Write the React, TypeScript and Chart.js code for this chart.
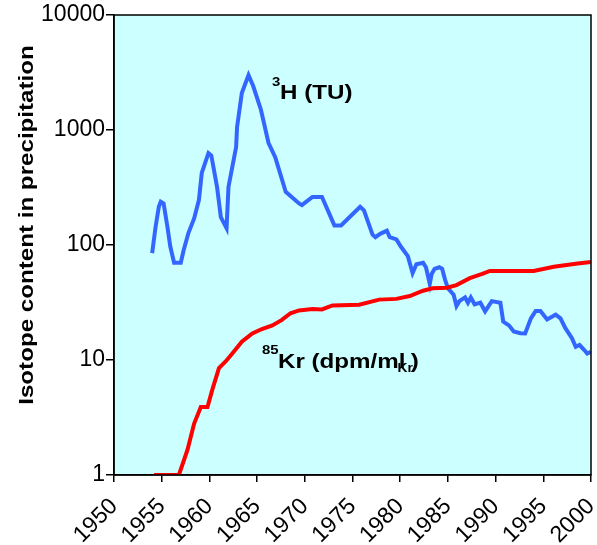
import React, { useEffect, useRef } from "react";
import { Chart, registerables } from "chart.js";
Chart.register(...registerables);

const xTickYears = [1950, 1955, 1960, 1965, 1970, 1975, 1980, 1985, 1990, 1995, 2000];
const yTickValues = [1, 10, 100, 1000, 10000];

const tritiumYears = [
  1954.0, 1954.36, 1954.7, 1954.9, 1955.2, 1955.6, 1955.9, 1956.3, 1957.0, 1957.3,
  1957.8, 1958.4, 1958.9, 1959.2, 1959.9, 1960.2, 1960.8, 1961.2, 1961.8, 1962.0,
  1962.8, 1962.9, 1963.4, 1964.1, 1964.6, 1965.4, 1966.2, 1966.9, 1968.0, 1969.4,
  1969.7, 1970.8, 1971.8, 1973.1, 1973.8, 1975.8, 1976.2, 1977.1, 1977.4, 1977.9,
  1978.6, 1978.9, 1979.6, 1980.1, 1980.8, 1981.3, 1981.7, 1982.4, 1982.7, 1983.1,
  1983.3, 1983.6, 1984.1, 1984.4, 1984.7, 1985.0, 1985.6, 1985.9, 1986.2, 1986.8,
  1987.1, 1987.4, 1987.8, 1988.4, 1988.9, 1989.6, 1990.5, 1990.8, 1991.4, 1991.9,
  1992.6, 1993.1, 1993.7, 1994.2, 1994.7, 1995.4, 1996.0, 1996.3, 1996.8, 1997.3,
  1998.0, 1998.4, 1998.8, 1999.3, 1999.6, 2000.0,
];
const tritiumValues = [
  85, 144, 215, 238, 230, 144, 97, 70, 70, 90,
  127, 170, 246, 423, 630, 600, 320, 175, 140, 320,
  710, 1060, 2100, 3000, 2400, 1500, 770, 580, 290, 230,
  222, 262, 262, 148, 148, 215, 200, 123, 117, 125,
  133, 117, 112, 96, 80, 57, 68, 70, 64, 46,
  56, 62, 64, 62, 50, 42, 37, 29.5, 32.5, 35,
  31.5, 35, 30.5, 31.5, 26.5, 32.5, 31.5, 21.6, 20, 17.7,
  17.1, 17, 23, 26.7, 26.7, 22.5, 24, 24.8, 23, 19,
  15.5, 13, 13.5, 12.2, 11.4, 11.8,
];

const kryptonYears = [
  1954.2, 1956.8, 1957.7, 1958.4, 1959.1, 1959.8, 1960.3, 1961.0, 1961.7, 1962.4,
  1963.4, 1964.5, 1965.5, 1966.6, 1967.6, 1968.5, 1969.4, 1970.8, 1971.8, 1972.9,
  1975.7, 1977.8, 1979.6, 1981.0, 1982.4, 1983.4, 1984.9, 1985.9, 1987.3, 1988.6,
  1989.4, 1994.0, 1996.1, 1998.6, 2000.0,
];
const kryptonValues = [
  1, 1, 1.65, 2.8, 3.9, 3.9, 5.5, 8.5, 9.7, 11.4,
  14.4, 17, 18.6, 20, 22.3, 25.5, 27, 27.8, 27.5, 29.8,
  30.2, 33.5, 34, 36, 40, 42, 42.5, 44.8, 51.5, 56,
  59.5, 59.5, 64.7, 69, 71,
];

const yAxisTitle = "Isotope content in precipitation";
const FONT = "'Liberation Sans', Arial, sans-serif";

export default function App() {
  const ref = useRef<HTMLCanvasElement>(null);
  useEffect(() => {
    document.body.style.margin = "0";
    const decorPlugin = {
      id: "decor",
      beforeDraw(chart: any) {
        const { ctx, chartArea: a } = chart;
        ctx.save();
        ctx.fillStyle = "#CCFFFF";
        ctx.fillRect(a.left, a.top, a.right - a.left, a.bottom - a.top);
        ctx.restore();
      },
      afterDraw(chart: any) {
        const { ctx, chartArea: a } = chart;
        ctx.save();
        ctx.strokeStyle = "#000";
        ctx.lineWidth = 1.5;
        ctx.strokeRect(a.left, a.top, a.right - a.left, a.bottom - a.top);
        // y axis title
        ctx.fillStyle = "#000";
        ctx.font = `bold 21px ${FONT}`;
        ctx.textAlign = "center";
        ctx.textBaseline = "alphabetic";
        ctx.translate(33, 225);
        ctx.rotate(-Math.PI / 2);
        ctx.scale(1.15, 1);
        ctx.fillText(yAxisTitle, 0, 0);
        ctx.restore();

        const stretched = (text: string, x: number, y: number, size: number) => {
          ctx.save();
          ctx.font = `bold ${size}px ${FONT}`;
          ctx.translate(x, y);
          ctx.scale(1.15, 1);
          ctx.fillText(text, 0, 0);
          const w = ctx.measureText(text).width * 1.15;
          ctx.restore();
          return w;
        };

        ctx.save();
        ctx.fillStyle = "#000";
        ctx.textBaseline = "alphabetic";
        ctx.textAlign = "left";
        // 3H (TU)
        stretched("3", 272, 86, 13);
        stretched("H (TU)", 280, 99, 21);
        // 85Kr (dpm/mlKr)
        stretched("85", 262, 354, 13);
        const w = stretched("Kr (dpm/ml", 278, 368, 21);
        const w2 = stretched("Kr", 278 + w - 8, 372, 12);
        stretched(")", 278 + w - 8 + w2 - 2, 368, 21);
        ctx.restore();
      },
    };

    const chart = new Chart(ref.current!, {
      type: "line",
      data: {
        datasets: [
          {
            label: "85Kr",
            data: kryptonYears.map((x, i) => ({ x, y: kryptonValues[i] })),
            borderColor: "#FF0000",
            borderWidth: 4,
            pointRadius: 0,
            tension: 0,
            fill: false,
          },
          {
            label: "3H",
            data: tritiumYears.map((x, i) => ({ x, y: tritiumValues[i] })),
            borderColor: "#3366FF",
            borderWidth: 4,
            pointRadius: 0,
            tension: 0,
            fill: false,
          },
        ],
      },
      options: {
        responsive: false,
        animation: false,
        devicePixelRatio: 1,
        layout: { padding: { left: 0, top: 15, right: 6, bottom: 0 } },
        plugins: { legend: { display: false }, tooltip: { enabled: false } },
        scales: {
          x: {
            type: "linear",
            min: 1950,
            max: 2000,
            afterBuildTicks: (s: any) => {
              s.ticks = xTickYears.map((v) => ({ value: v }));
            },
            afterFit: (s: any) => {
              s.height = 70;
              s.paddingLeft = 0;
              s.paddingRight = 0;
            },
            ticks: {
              autoSkip: false,
              minRotation: 45,
              maxRotation: 45,
              color: "#000",
              font: { family: FONT, size: 23 },
              padding: 11,
              callback: (v: any) => String(v),
            },
            grid: { drawOnChartArea: false, color: "#000", tickLength: 7, lineWidth: 1.5 },
            border: { color: "#000", width: 1.5 },
          },
          y: {
            type: "logarithmic",
            min: 1,
            max: 10000,
            afterBuildTicks: (s: any) => {
              s.ticks = yTickValues.map((v) => ({ value: v }));
            },
            afterFit: (s: any) => {
              s.width = 114;
              s.paddingTop = 0;
              s.paddingBottom = 0;
            },
            ticks: {
              color: "#000",
              font: { family: FONT, size: 23 },
              padding: 1,
              callback: (v: any) => String(v),
            },
            grid: { drawOnChartArea: false, color: "#000", tickLength: 8, lineWidth: 1.5 },
            border: { color: "#000", width: 1.5 },
          },
        },
      },
      plugins: [decorPlugin],
    } as any);
    return () => chart.destroy();
  }, []);
  return (
    <div style={{ position: "absolute", left: 0, top: 0, width: 597, height: 545 }}>
      <canvas ref={ref} width={597} height={545} style={{ display: "block" }} />
    </div>
  );
}
